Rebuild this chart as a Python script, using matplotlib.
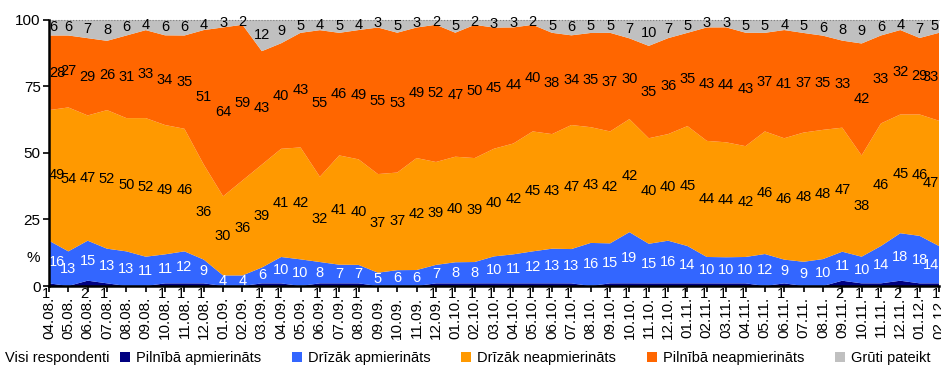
import numpy as np
import matplotlib.pyplot as plt
from matplotlib.patches import Patch

plt.rcParams['font.family'] = ['Liberation Sans', 'DejaVu Sans']

dates = ['04.08.', '05.08.', '06.08.', '07.08.', '08.08.', '09.08.', '10.08.', '11.08.', '12.08.',
         '01.09.', '02.09.', '03.09.', '04.09.', '05.09.', '06.09.', '07.09.', '08.09.', '09.09.',
         '10.09.', '11.09.', '12.09.', '01.10.', '02.10.', '03.10.', '04.10.', '05.10.', '06.10.',
         '07.10.', '08.10.', '09.10.', '10.10.', '11.10.', '12.10.', '01.11.', '02.11.', '03.11.',
         '04.11.', '05.11.', '06.11.', '07.11.', '08.11.', '09.11.', '10.11.', '11.11.', '12.11.',
         '01.12.', '02.12.']

pilniba_apm = [1, 0, 2, 1, 0, 0, 1, 1, 1, 0, 0, 1, 1, 0, 1, 1, 1, 0, 0, 0, 1, 1, 1, 1,
               1, 1, 1, 1, 0, 1, 1, 1, 1, 1, 1, 1, 1, 0, 1, 0, 0, 2, 1, 1, 2, 1, 1]
drizak_apm = [16, 13, 15, 13, 13, 11, 11, 12, 9, 4, 4, 6, 10, 10, 8, 7, 7, 5, 6, 6, 7, 8, 8, 10,
              11, 12, 13, 13, 16, 15, 19, 15, 16, 14, 10, 10, 10, 12, 9, 9, 10, 11, 10, 14, 18, 18, 14]
drizak_neapm = [49, 54, 47, 52, 50, 52, 49, 46, 36, 30, 36, 39, 41, 42, 32, 41, 40, 37, 37, 42, 39, 40, 39, 40,
                42, 45, 43, 47, 43, 42, 42, 40, 40, 45, 44, 44, 42, 46, 46, 48, 48, 47, 38, 46, 45, 46, 47]
pilniba_neapm = [28, 27, 29, 26, 31, 33, 34, 35, 51, 64, 59, 43, 40, 43, 55, 46, 49, 55, 53, 49, 52, 47, 50, 45,
                 44, 40, 38, 34, 35, 37, 30, 35, 36, 35, 43, 44, 43, 37, 41, 37, 35, 33, 42, 33, 32, 29, 33]
gruti_pateikt = [6, 6, 7, 8, 6, 4, 6, 6, 4, 3, 2, 12, 9, 5, 4, 5, 4, 3, 5, 3, 2, 5, 2, 3,
                 3, 2, 5, 6, 5, 5, 7, 10, 7, 5, 3, 3, 5, 5, 4, 5, 6, 8, 9, 6, 4, 7, 5]

names = ['Pilnībā apmierināts', 'Drīzāk apmierināts', 'Drīzāk neapmierināts',
         'Pilnībā neapmierināts', 'Grūti pateikt']
colors = ['#000080', '#3366FF', '#FF9900', '#FF6600', '#C0C0C0']
text_colors = ['black', 'white', 'black', 'black', 'black']

data = np.array([pilniba_apm, drizak_apm, drizak_neapm, pilniba_neapm, gruti_pateikt])
shares = data / data.sum(axis=0) * 100
x = np.arange(len(dates))
n = len(dates)

fig = plt.figure(figsize=(9.41, 3.74), dpi=100)
ax = fig.add_axes([49 / 941, 88 / 374, 890 / 941, 266.5 / 374])
ax.stackplot(x, shares, colors=colors, linewidth=0)
ax.set_xlim(0, n - 1)
ax.set_ylim(0, 100)
ax.axhline(100, color='#808080', ls=':', lw=0.8, clip_on=False)

# value labels in the middle of each band
tops = np.cumsum(shares, axis=0)
centers = tops - shares / 2
for s in range(1, 5):
    for i in x:
        ha = 'left' if i == 0 else ('right' if i == n - 1 else 'center')
        ax.text(i, centers[s, i], str(data[s, i]), ha=ha, va='center',
                fontsize=10.5, color=text_colors[s], zorder=4)

# the thin bottom band gets its labels just under the axis
for i in x:
    if data[0, i] > 0:
        ax.annotate(str(data[0, i]), (i, 0), xytext=(-3, -8), textcoords='offset pixels',
                    ha='center', va='center', fontsize=10.5, color='black', annotation_clip=False)

for side in ['top', 'right']:
    ax.spines[side].set_visible(False)
for side in ['left', 'bottom']:
    ax.spines[side].set_linewidth(1.8)
    ax.spines[side].set_zorder(5)

ax.set_yticks([0, 25, 50, 75, 100])
ax.tick_params(axis='y', labelsize=11, length=4, width=1.2, direction='out', pad=2)
ax.set_xticks(x, dates, rotation=90)
ax.tick_params(axis='x', labelsize=11, length=4, width=1.2, direction='out', pad=4)

fig.text(33 / 941, 1 - 258 / 374, '%', fontsize=11, ha='center', va='center')

fig.text(5 / 941, 1 - 358 / 374, 'Visi respondenti', fontsize=10.5, ha='left', va='center')
handles = [Patch(facecolor=c, edgecolor='none') for c in colors]
fig.legend(handles, names, ncol=5, loc='center left', bbox_to_anchor=(120 / 941, 1 - 358 / 374),
           frameon=False, fontsize=10.5, handlelength=0.7, handleheight=0.7,
           handletextpad=0.4, columnspacing=2.1, borderaxespad=0, borderpad=0)

fig.savefig('out.png', dpi=100)
